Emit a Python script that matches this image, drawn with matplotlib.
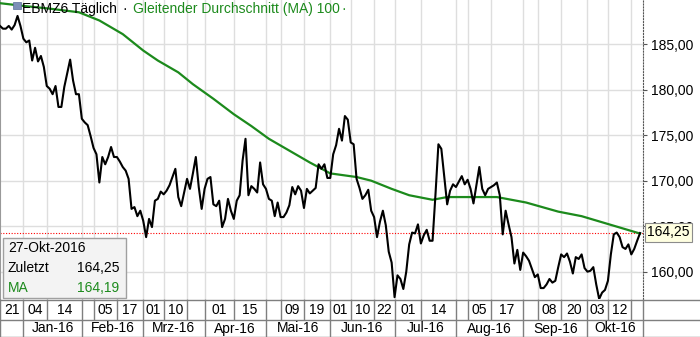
import numpy as np
import pandas as pd
import matplotlib
matplotlib.use("Agg")
import matplotlib.pyplot as plt
from matplotlib.patches import Rectangle
from matplotlib.ticker import FuncFormatter

plt.rcParams['font.family'] = ['Liberation Sans', 'DejaVu Sans']
plt.rcParams['font.size'] = 10

symbol = 'EBMZ6'
ma_len = 100

# trading calendar (Euronext closed days removed)
closed_days = ['2015-12-25', '2016-01-01', '2016-03-25', '2016-03-28']
days = pd.bdate_range('2015-12-21', '2016-10-27')
days = days[~days.isin(pd.to_datetime(closed_days))]

# daily settlement prices
close = [
    187.0, 186.7, 186.7, 187.0, 186.6, 187.1, 188.1, 187.0, 185.6, 185.2,
    185.4, 183.2, 184.6, 183.1, 183.7, 182.5, 180.4, 180.1, 179.5, 180.4,
    178.1, 178.1, 180.3, 181.8, 183.3, 181.0, 179.5, 179.5, 176.8, 176.4,
    176.1, 174.9, 173.6, 172.9, 169.8, 172.6, 171.8, 172.6, 173.7, 172.6,
    172.6, 172.1, 171.5, 171.1, 170.2, 166.9, 167.1, 166.1, 166.7, 165.6,
    163.8, 165.8, 164.9, 167.8, 168.0, 168.8, 168.5, 168.9, 169.5, 170.4,
    171.3, 168.2, 167.2, 168.7, 170.2, 169.1, 170.8, 172.6, 169.3, 166.9,
    169.1, 170.2, 170.4, 167.4, 167.2, 167.8, 164.9, 165.8, 168.0, 166.7,
    165.8, 167.8, 168.4, 172.2, 174.6, 168.4, 169.4, 169.1, 168.7, 172.0,
    169.6, 169.1, 168.0, 167.8, 166.1, 167.6, 166.0, 166.0, 166.5, 167.3,
    169.3, 168.5, 169.4, 168.9, 167.0, 169.1, 168.6, 168.9, 169.2, 171.8,
    171.3, 171.8, 170.3, 170.3, 172.9, 173.9, 175.7, 174.4, 177.1, 176.7,
    174.2, 174.0, 170.2, 169.2, 168.0, 168.4, 169.0, 166.7, 166.0, 163.8,
    165.5, 166.7, 165.1, 162.2, 161.0, 157.2, 159.6, 159.2, 158.1, 160.0,
    163.0, 164.3, 164.2, 165.2, 163.1, 164.0, 164.6, 163.4, 163.4, 168.5,
    174.0, 173.5, 170.4, 167.4, 168.9, 169.6, 169.3, 169.9, 170.5, 169.6,
    170.1, 169.1, 167.5, 169.5, 171.5, 169.1, 168.4, 169.1, 169.3, 169.5,
    169.8, 168.4, 164.1, 166.7, 165.2, 163.8, 160.9, 162.4, 160.2, 162.1,
    161.7, 161.2, 160.3, 159.4, 159.7, 158.2, 158.2, 158.6, 159.2, 158.8,
    159.0, 160.5, 161.9, 161.6, 162.0, 161.1, 159.8, 161.6, 161.4, 161.9,
    160.4, 160.0, 160.1, 160.5, 158.6, 157.0, 157.7, 158.0, 159.0, 161.9,
    164.1, 164.3, 163.8, 162.7, 162.5, 163.0, 161.9, 162.5, 163.4, 164.25,
]

# 100-day moving average
ma_dates = [
    '2015-12-21', '2016-01-04', '2016-01-15', '2016-01-29', '2016-02-09',
    '2016-02-19', '2016-03-01', '2016-03-08', '2016-03-17', '2016-03-24',
    '2016-04-06', '2016-04-15', '2016-04-25', '2016-05-03', '2016-05-12',
    '2016-05-23', '2016-06-01', '2016-06-14', '2016-06-21', '2016-06-30',
    '2016-07-08', '2016-07-20', '2016-07-27', '2016-08-08', '2016-08-19',
    '2016-09-02', '2016-09-19', '2016-09-29', '2016-10-14', '2016-10-27',
]
ma_values = [
    189.5, 189.2, 188.9, 188.5, 187.6, 186.1, 184.3, 183.2, 181.9, 180.6,
    179.0, 177.3, 176.0, 174.6, 173.3, 172.0, 170.8, 170.4, 170.0, 169.1,
    168.4, 167.9, 168.2, 168.2, 168.2, 167.6, 166.6, 166.1, 165.05, 164.19,
]

# date grid and its day labels
grid_dates = [
    '2015-12-21', '2016-01-04', '2016-01-14', '2016-02-01', '2016-02-05',
    '2016-02-17', '2016-03-01', '2016-03-10', '2016-03-22', '2016-04-01',
    '2016-04-15', '2016-05-02', '2016-05-09', '2016-05-19', '2016-06-01',
    '2016-06-10', '2016-06-22', '2016-07-01', '2016-07-14', '2016-08-01',
    '2016-08-05', '2016-08-17', '2016-09-01', '2016-09-08', '2016-09-20',
    '2016-10-03', '2016-10-12', '2016-10-24',
]
grid_labels = [
    '21', '04', '14', '', '05', '17', '01', '10', '', '01', '15', '', '09',
    '19', '01', '10', '22', '01', '14', '', '05', '17', '', '08', '20', '03',
    '12', '',
]
month_abbr = ['Jan', 'Feb', 'Mrz', 'Apr', 'Mai', 'Jun',
              'Jul', 'Aug', 'Sep', 'Okt', 'Nov', 'Dez']
y_ticks = [160, 165, 170, 175, 180, 185]


def de_num(v):
    return f'{v:.2f}'.replace('.', ',')


W, H = 700, 337
plot_right, plot_bottom = 643, 299
line_col = '#7f7f7f'
green = '#1c8a1c'

fig = plt.figure(figsize=(W / 100, H / 100), dpi=100)
ax = fig.add_axes([0, (H - plot_bottom) / H, plot_right / W, plot_bottom / H])

pos = {d: i for i, d in enumerate(days)}
x = np.arange(len(days))
n = len(days)
grid_x = [pos[pd.Timestamp(d)] for d in grid_dates]
ma_x = [pos[pd.Timestamp(d)] for d in ma_dates]

for gx in grid_x[1:]:
    ax.axvline(gx, color='#dedede', lw=1, zorder=1)
ax.set_yticks(y_ticks)
ax.grid(axis='y', color='#dedede', lw=1, zorder=1)
ax.set_axisbelow(True)

ax.axhline(close[-1], color='red', lw=0.8, ls=(0, (1, 1.5)), zorder=2)
ax.plot(ma_x, ma_values, color=green, lw=1.6, zorder=3)
ax.plot(x, close, color='black', lw=1.5, zorder=4)

ax.set_xlim(0, n)
ax.set_ylim(157.0, 189.85)
ax.set_xticks([])
ax.yaxis.tick_right()
ax.yaxis.set_major_formatter(FuncFormatter(lambda v, p: de_num(v)))
ax.tick_params(axis='y', length=3, color='#555555', pad=3, labelsize=10)
for s in ['top', 'bottom']:
    ax.spines[s].set_visible(False)
ax.spines['left'].set_color('#999999')
ax.spines['right'].set_color('#555555')
ax.spines['right'].set_linestyle(':')

# date strip under the plot
strip_h = H - plot_bottom
dax = fig.add_axes([0, 0, 1, strip_h / H])
dax.set_xlim(0, n * W / plot_right)
dax.set_ylim(0, strip_h)
dax.axis('off')
split = H - 320
dax.axhline(strip_h - 0.5, color=line_col, lw=1)
dax.axhline(split, color=line_col, lw=1)
dax.axhline(0.5, color=line_col, lw=1)

edges = grid_x + [n]
for i, gx in enumerate(grid_x):
    dax.vlines(gx, split, strip_h, color=line_col, lw=1)
    if grid_labels[i]:
        dax.text((gx + edges[i + 1]) / 2, (split + strip_h) / 2, grid_labels[i],
                 ha='center', va='center', fontsize=10)

month_start = [0] + [i for i in range(1, n) if days[i].month != days[i - 1].month]
month_edges = month_start + [n]
for i, ms in enumerate(month_start):
    dax.vlines(ms, 0, split, color=line_col, lw=1)
    if i == 0:
        continue
    d = days[ms]
    dax.text((ms + month_edges[i + 1]) / 2, split / 2,
             f'{month_abbr[d.month - 1]}-{d.strftime("%y")}',
             ha='center', va='center', fontsize=10)
dax.vlines(n, 0, strip_h, color=line_col, lw=1)


def fx(px):
    return px / W


def fy(py):
    return 1 - py / H


# title line
fig.add_artist(Rectangle((fx(13), fy(9)), 8 / W, 7 / H, transform=fig.transFigure,
                         fc='#7d8fb8', ec='#5a6d99', lw=0.5, zorder=5))
fig.text(fx(22), fy(9), f'{symbol} Täglich', color='black', va='center', zorder=6)
fig.text(fx(122), fy(9), '·', color='black', va='center', zorder=6)
fig.text(fx(133), fy(9), f'Gleitender Durchschnitt (MA) {ma_len}', color=green,
         va='center', zorder=6)
fig.text(fx(341), fy(9), '·', color=green, va='center', zorder=6)

# info box with last values
fig.add_artist(Rectangle((fx(3), fy(298)), 123 / W, 60 / H, transform=fig.transFigure,
                         fc='#f3f3f3', ec='#a0a0a0', lw=1, zorder=5))
last = days[-1]
fig.text(fx(8), fy(248), f'{last.day}-{month_abbr[last.month - 1]}-{last.year}',
         va='center', zorder=6)
fig.text(fx(8), fy(268), 'Zuletzt', va='center', zorder=6)
fig.text(fx(119), fy(268), de_num(close[-1]), va='center', ha='right', zorder=6)
fig.text(fx(8), fy(288), 'MA', va='center', color=green, zorder=6)
fig.text(fx(119), fy(288), de_num(ma_values[-1]), va='center', ha='right',
         color=green, zorder=6)

# last price marker on the value axis
fig.text(fx(647), fy(232), de_num(close[-1]), va='center', ha='left', zorder=7,
         bbox=dict(boxstyle='square,pad=0.18', fc='#ffffe1', ec='#8c8c8c', lw=0.8))

fig.savefig('out.png', dpi=100)
